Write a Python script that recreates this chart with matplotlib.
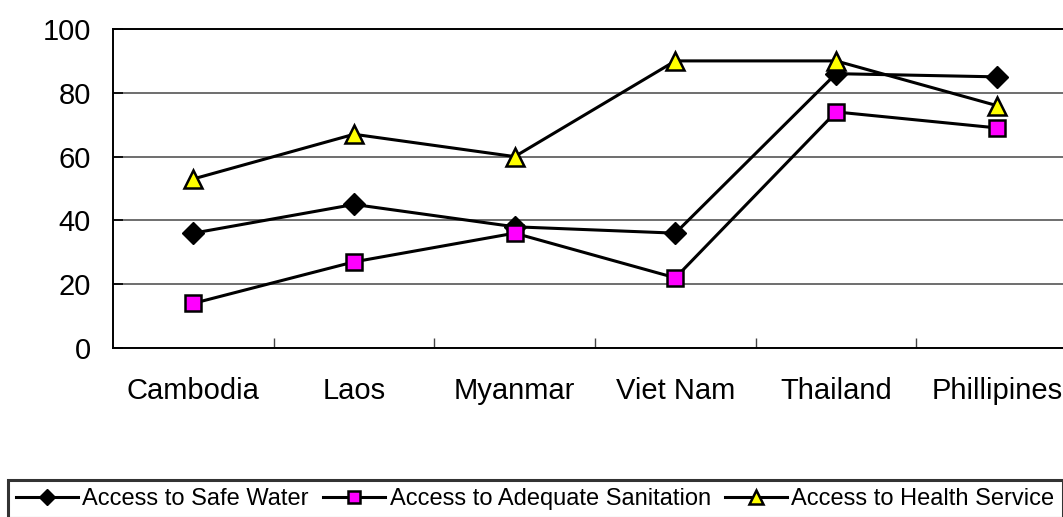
import matplotlib
matplotlib.use("Agg")
import matplotlib.pyplot as plt

# Country names along the x axis
countries = ["Cambodia", "Laos", "Myanmar", "Viet Nam", "Thailand", "Phillipines"]

# Percent of population with access
safe_water = [36, 45, 38, 36, 86, 85]
sanitation = [14, 27, 36, 22, 74, 69]
health = [53, 67, 60, 90, 90, 76]

yticks = [0, 20, 40, 60, 80, 100]

plt.rcParams['font.family'] = ['Liberation Sans', 'DejaVu Sans']

fig = plt.figure(figsize=(10.63, 5.17), dpi=100)
ax = fig.add_axes([0.1063, 0.3269, 0.9069, 0.617])

x = range(len(countries))
ax.plot(x, safe_water, color='black', lw=2.2, marker='D', ms=11,
        mfc='black', mec='black', label='Access to Safe Water')
ax.plot(x, sanitation, color='black', lw=2.2, marker='s', ms=12,
        mfc='#FF00FF', mec='black', mew=1.8, label='Access to Adequate Sanitation')
ax.plot(x, health, color='black', lw=2.2, marker='^', ms=13,
        mfc='#FFFF00', mec='black', mew=1.8, label='Access to Health Service')

# Axes, ticks and grid styled like the original spreadsheet chart
ax.set_xlim(-0.5, len(countries) - 0.5)
ax.set_ylim(0, 100)
ax.set_yticks(yticks)
ax.set_xticks(list(x))
ax.set_xticklabels(countries)
ax.set_xticks([i + 0.5 for i in range(len(countries) - 1)], minor=True)
ax.tick_params(axis='x', which='major', length=0, pad=21, labelsize=21)
ax.tick_params(axis='x', which='minor', length=7, direction='in', width=1, color='#444444')
ax.tick_params(axis='y', length=7, direction='in', width=1.2, pad=16, labelsize=21)
ax.yaxis.grid(True, color='#555555', lw=1.2)
ax.set_axisbelow(True)
for side in ['left', 'bottom', 'top', 'right']:
    ax.spines[side].set_linewidth(1.4)

leg = fig.legend(loc='upper left', bbox_to_anchor=(0.0075, 0.072), ncol=3,
                 fontsize=17, frameon=True, fancybox=False, edgecolor='black',
                 handlelength=2.6, handletextpad=0.2, columnspacing=0.62,
                 markerscale=0.75, borderpad=0.35, borderaxespad=0)
leg.get_frame().set_linewidth(2.2)

fig.savefig("out.png", dpi=100)
